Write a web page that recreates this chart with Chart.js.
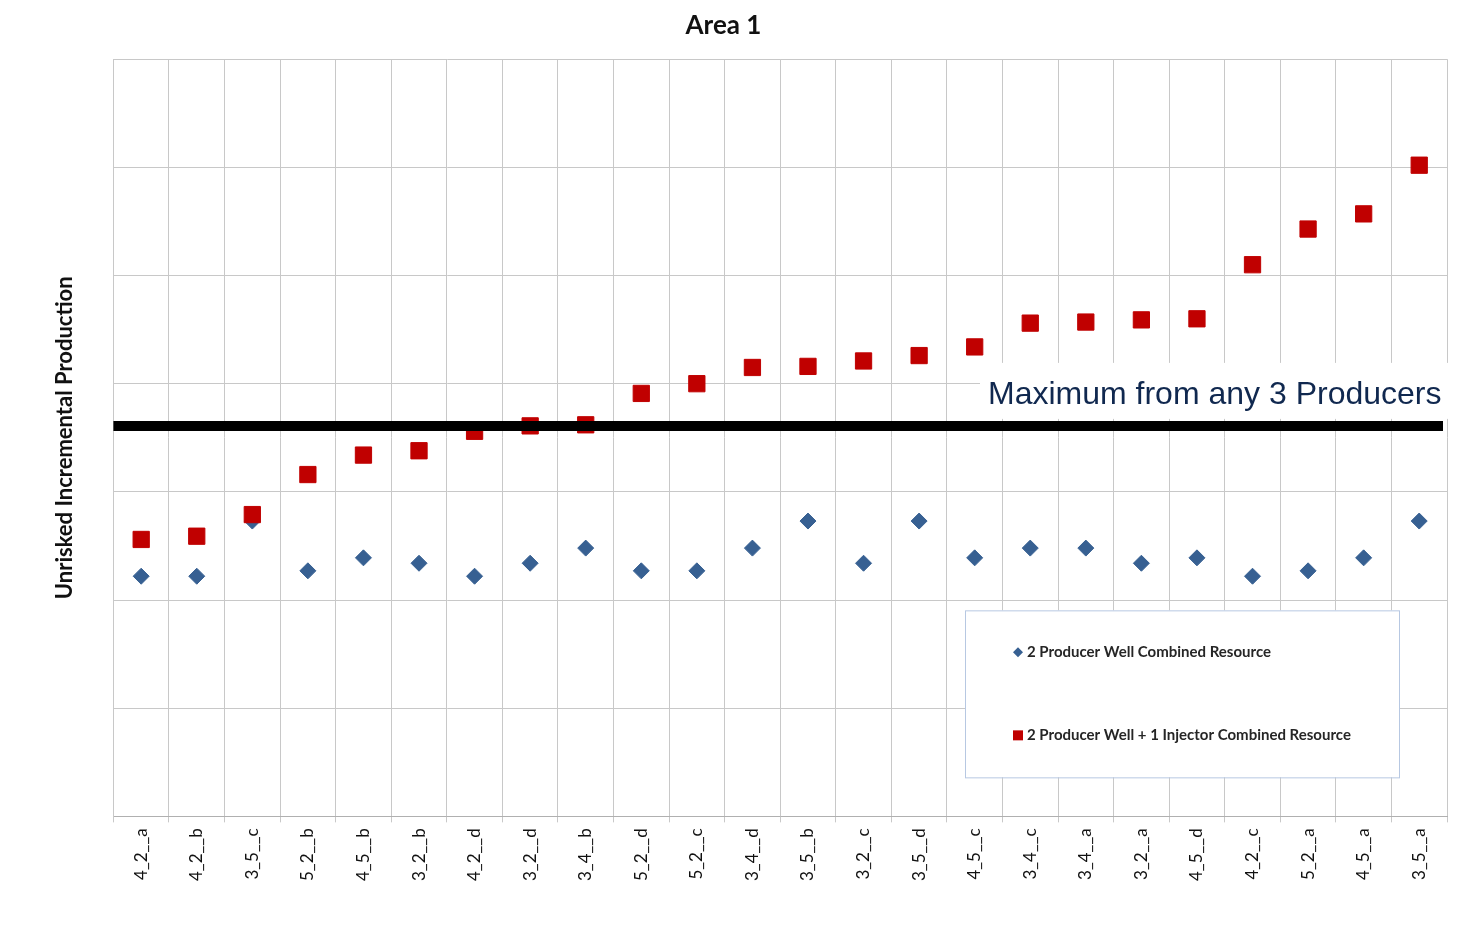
<!DOCTYPE html>
<html>
<head>
<meta charset="utf-8">
<title>Area 1</title>
<script src="https://cdn.jsdelivr.net/npm/chart.js@4.4.0/dist/chart.umd.min.js"></script>
<style>
  html, body { margin: 0; padding: 0; background: #ffffff; overflow: hidden; }
</style>
</head>
<body>
<canvas id="AreaChart" width="1461" height="951"></canvas>
<script>
// well combinations on the x axis
const wellLabels = [
  "4_2__a", "4_2__b", "3_5__c", "5_2__b", "4_5__b", "3_2__b", "4_2__d", "3_2__d",
  "3_4__b", "5_2__d", "5_2__c", "3_4__d", "3_5__b", "3_2__c", "3_5__d", "4_5__c",
  "3_4__c", "3_4__a", "3_2__a", "4_5__d", "4_2__c", "5_2__a", "4_5__a", "3_5__a"
];
// 2 producer wells (blue diamonds)
const twoProducer = [
  22.2, 22.2, 27.3, 22.7, 23.9, 23.4, 22.2, 23.4,
  24.8, 22.7, 22.7, 24.8, 27.3, 23.4, 27.3, 23.9,
  24.8, 24.8, 23.4, 23.9, 22.2, 22.7, 23.9, 27.3
];
// 2 producer wells + 1 injector (red squares)
const twoProducerInjector = [
  25.6, 25.9, 27.9, 31.6, 33.4, 33.8, 35.6, 36.1,
  36.2, 39.1, 40.0, 41.5, 41.6, 42.1, 42.6, 43.4,
  45.6, 45.7, 45.9, 46.0, 51.0, 54.3, 55.7, 60.2
];
// black reference line
const maxThreeProducers = 36.1;
// y axis: no numbers shown, only grid lines
const yMin = 0;
const yMax = 70;
const yStep = 10;

const gridGrey = "#c8c8c8";

// the thick black line + the text box above it
const maxLinePlugin = {
  id: "maxLine",
  beforeDatasetsDraw(chart) {
    const ctx = chart.ctx;
    const area = chart.chartArea;
    const y = chart.scales.y.getPixelForValue(maxThreeProducers);
    ctx.save();
    // white box hides the grid behind the text
    ctx.fillStyle = "#ffffff";
    ctx.fillRect(area.right - 467, y - 63, 472, 56);
    ctx.fillStyle = "#10284f";
    ctx.font = "32px 'Liberation Sans', Arial, sans-serif";
    ctx.textAlign = "left";
    ctx.textBaseline = "alphabetic";
    ctx.fillText("Maximum from any 3 Producers", area.right - 459, y - 22);
    ctx.restore();
  },
  afterDatasetsDraw(chart) {
    const ctx = chart.ctx;
    const area = chart.chartArea;
    const y = chart.scales.y.getPixelForValue(maxThreeProducers);
    ctx.save();
    ctx.strokeStyle = "#000000";
    ctx.lineWidth = 10;
    ctx.beginPath();
    ctx.moveTo(area.left, y);
    ctx.lineTo(area.right - 4, y);
    ctx.stroke();
    ctx.restore();
  }
};

// legend box inside the plot (bottom right)
const boxLegendPlugin = {
  id: "boxLegend",
  afterDraw(chart) {
    const ctx = chart.ctx;
    const area = chart.chartArea;
    const x0 = area.right - 482;
    const y0 = area.bottom - 206;
    ctx.save();
    ctx.fillStyle = "#ffffff";
    ctx.fillRect(x0, y0, 434, 167);
    ctx.strokeStyle = "#b7c8e2";
    ctx.lineWidth = 1;
    ctx.strokeRect(x0 + 0.5, y0 + 0.5, 434, 167);

    ctx.font = "bold 15px Lato, 'Noto Sans', sans-serif";
    ctx.textAlign = "left";
    ctx.textBaseline = "middle";
    const rows = [42, 125];
    chart.data.datasets.forEach(function (ds, i) {
      const cy = y0 + rows[i];
      const cx = x0 + 53;
      ctx.fillStyle = ds.backgroundColor;
      ctx.beginPath();
      if (ds.pointStyle === "rectRot") {
        ctx.moveTo(cx - 5, cy);
        ctx.lineTo(cx, cy - 5);
        ctx.lineTo(cx + 5, cy);
        ctx.lineTo(cx, cy + 5);
        ctx.closePath();
      } else {
        ctx.rect(cx - 5, cy - 5, 10, 10);
      }
      ctx.fill();
      ctx.fillStyle = "#262626";
      ctx.fillText(ds.label, x0 + 62, cy);
    });
    ctx.restore();
  }
};

function ChartArea() {
  const ctx = document.getElementById("AreaChart").getContext("2d");
  new Chart(ctx, {
    type: "line",
    data: {
      labels: wellLabels,
      datasets: [
        {
          label: "2 Producer Well Combined Resource",
          data: twoProducer,
          showLine: false,
          pointStyle: "rectRot",
          pointRadius: 8,
          pointHoverRadius: 8,
          pointBorderWidth: 1,
          backgroundColor: "#376092",
          borderColor: "#376092",
          order: 1
        },
        {
          label: "2 Producer Well + 1 Injector Combined Resource",
          data: twoProducerInjector,
          showLine: false,
          pointStyle: "rect",
          pointRadius: 11.5,
          pointHoverRadius: 11.5,
          pointBorderWidth: 1,
          backgroundColor: "#c00000",
          borderColor: "#c00000",
          order: 0
        }
      ]
    },
    options: {
      responsive: false,
      animation: false,
      devicePixelRatio: 1,
      layout: { padding: { left: 0, right: 14, top: 0, bottom: 64 } },
      plugins: {
        legend: { display: false },
        tooltip: { enabled: false },
        title: {
          display: true,
          text: "Area 1",
          color: "#111111",
          font: { family: "Lato, 'Noto Sans', sans-serif", size: 26, weight: "bold" },
          padding: { top: 10, bottom: 18 }
        }
      },
      scales: {
        x: {
          offset: true,
          grid: { offset: true, color: gridGrey, tickLength: 6 },
          border: { color: "#b0b0b0" },
          ticks: {
            color: "#111111",
            maxRotation: 90,
            minRotation: 90,
            padding: 6,
            autoSkip: false,
            font: { family: "Lato, 'Noto Sans', sans-serif", size: 17 }
          }
        },
        y: {
          min: yMin,
          max: yMax,
          ticks: { stepSize: yStep, display: false },
          grid: { color: gridGrey, drawTicks: false },
          border: { color: gridGrey },
          title: {
            display: true,
            text: "Unrisked Incremental Production",
            color: "#111111",
            font: { family: "Lato, 'Noto Sans', sans-serif", size: 22, weight: "bold" },
            padding: { top: 52, bottom: 35 }
          }
        }
      }
    },
    plugins: [maxLinePlugin, boxLegendPlugin]
  });
}

ChartArea();
</script>
</body>
</html>
